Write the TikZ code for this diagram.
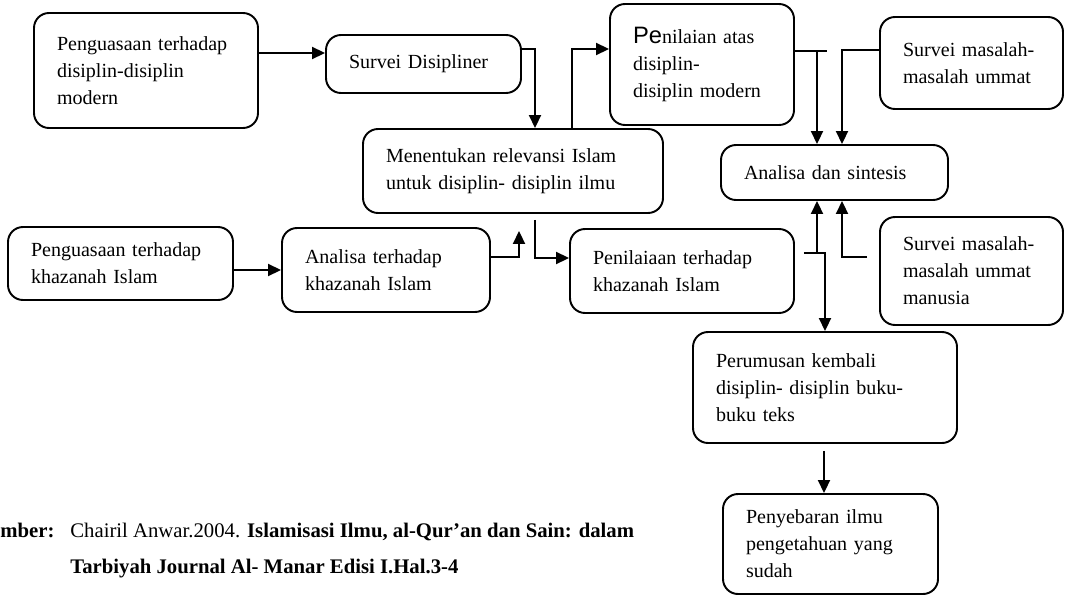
\documentclass[tikz,border=0pt]{standalone}
\usepackage{fontspec}
\setmainfont{Liberation Serif}
\setsansfont{Liberation Sans}
\usetikzlibrary{arrows.meta,calc}
\tikzset{
  box/.style={draw,rounded corners=0.3cm,line width=1.1pt,align=left,inner xsep=0.46cm,inner ysep=0pt,font=\fontsize{11.4}{15.4}\selectfont},
  arr/.style={-{Triangle[length=0.26cm,width=0.24cm]},line width=1.1pt},
  ln/.style={line width=1.1pt},
  src/.style={font=\fontsize{11.8}{13}\selectfont,anchor=base west,inner sep=0pt},
}
\begin{document}
\begin{tikzpicture}
  \useasboundingbox (0,0) rectangle (21.34,11.94);
  % kotak-kotak
  \node[box,text width=3.56cm,minimum height=2.30cm] (pm) at (2.92,10.53) {Penguasaan terhadap\\disiplin-disiplin\\modern};
  \node[box,text width=2.98cm,minimum height=1.16cm] (sd) at (8.47,10.66) {Survei Disipliner};
  \node[box,text width=5.08cm,minimum height=1.68cm] (mr) at (10.26,8.52) {Menentukan relevansi Islam\\untuk disiplin- disiplin ilmu};
  \node[box,text width=3.58cm,minimum height=1.46cm] (pk) at (2.41,6.67) {Penguasaan terhadap\\khazanah Islam};
  \node[box,text width=3.24cm,minimum height=1.68cm] (ak) at (7.72,6.54) {Analisa terhadap\\khazanah Islam};
  \node[box,text width=2.76cm,minimum height=2.42cm] (pa) at (14.04,10.65) {{\sffamily\fontsize{13.5}{15.4}\selectfont Pe}nilaian atas\\disiplin-\\disiplin modern};
  \node[box,text width=2.74cm,minimum height=1.84cm] (sm) at (19.43,10.68) {Survei masalah-\\masalah ummat};
  \node[box,text width=3.62cm,minimum height=1.10cm] (an) at (16.69,8.49) {Analisa dan sintesis};
  \node[box,text width=3.56cm,minimum height=1.68cm] (pt) at (13.64,6.52) {Penilaiaan terhadap\\khazanah Islam};
  \node[box,text width=2.74cm,minimum height=2.16cm] (su) at (19.43,6.52) {Survei masalah-\\masalah ummat\\manusia};
  \node[box,text width=4.36cm,minimum height=2.22cm] (pr) at (16.50,4.19) {Perumusan kembali\\disiplin- disiplin buku-\\buku teks};
  \node[box,text width=3.38cm,minimum height=2.00cm] (ps) at (16.61,1.06) {Penyebaran ilmu\\pengetahuan yang\\sudah};
  % panah kiri
  \draw[arr] ([yshift=0.35cm]pm.east) -- ([yshift=0.22cm]sd.west);
  \draw[arr] ([yshift=0.30cm]sd.east) -| ([xshift=0.44cm]mr.north);
  \draw[arr] ([xshift=1.18cm]mr.north) |- ([yshift=0.31cm]pa.west);
  \draw[arr] (pk.east |- ak.west) -- (ak.west);
  \coordinate (e1) at ([xshift=0.12cm,yshift=-0.34cm]mr.south);
  \draw[arr] ([yshift=0.26cm]ak.east) -| (e1);
  \coordinate (f1) at ([xshift=0.44cm,yshift=-0.12cm]mr.south);
  \draw[arr] (f1) |- ([yshift=0.26cm]pt.west);
  % panah ke analisa dan sintesis
  \coordinate (a1) at ([xshift=-0.35cm]an.north);
  \coordinate (a2) at ([xshift=0.15cm]an.north);
  \coordinate (a3) at ([xshift=-0.35cm]an.south);
  \coordinate (a4) at ([xshift=0.15cm]an.south);
  \draw[ln] ([yshift=0.27cm]pa.east) -- ++(0.64,0) coordinate (g1);
  \draw[arr] (a1 |- g1) -- (a1);
  \draw[arr] ([yshift=0.26cm]sm.west) -| (a2);
  \coordinate (i1) at ([xshift=0.18cm,yshift=0.36cm]pt.east);
  \draw[arr] (i1) -| (pr.north);
  \draw[arr] (a3 |- i1) -- (a3);
  \draw[arr] ([xshift=-0.24cm,yshift=0.28cm]su.west) -| (a4);
  \coordinate (k1) at ([xshift=-0.02cm,yshift=-0.14cm]pr.south);
  \draw[arr] (k1) -- (k1 |- ps.north);
  % sumber
  \node[src] (sb) at (0,1.20) {\textbf{mber:}};
  \node[src] (s1) at (1.40,1.20) {Chairil Anwar.2004. \textbf{Islamisasi Ilmu, al-Qur’an dan Sain: dalam}};
  \node[src] (s2) at (1.40,0.48) {\textbf{Tarbiyah Journal Al- Manar Edisi I.Hal.3-4}};
\end{tikzpicture}
\end{document}
